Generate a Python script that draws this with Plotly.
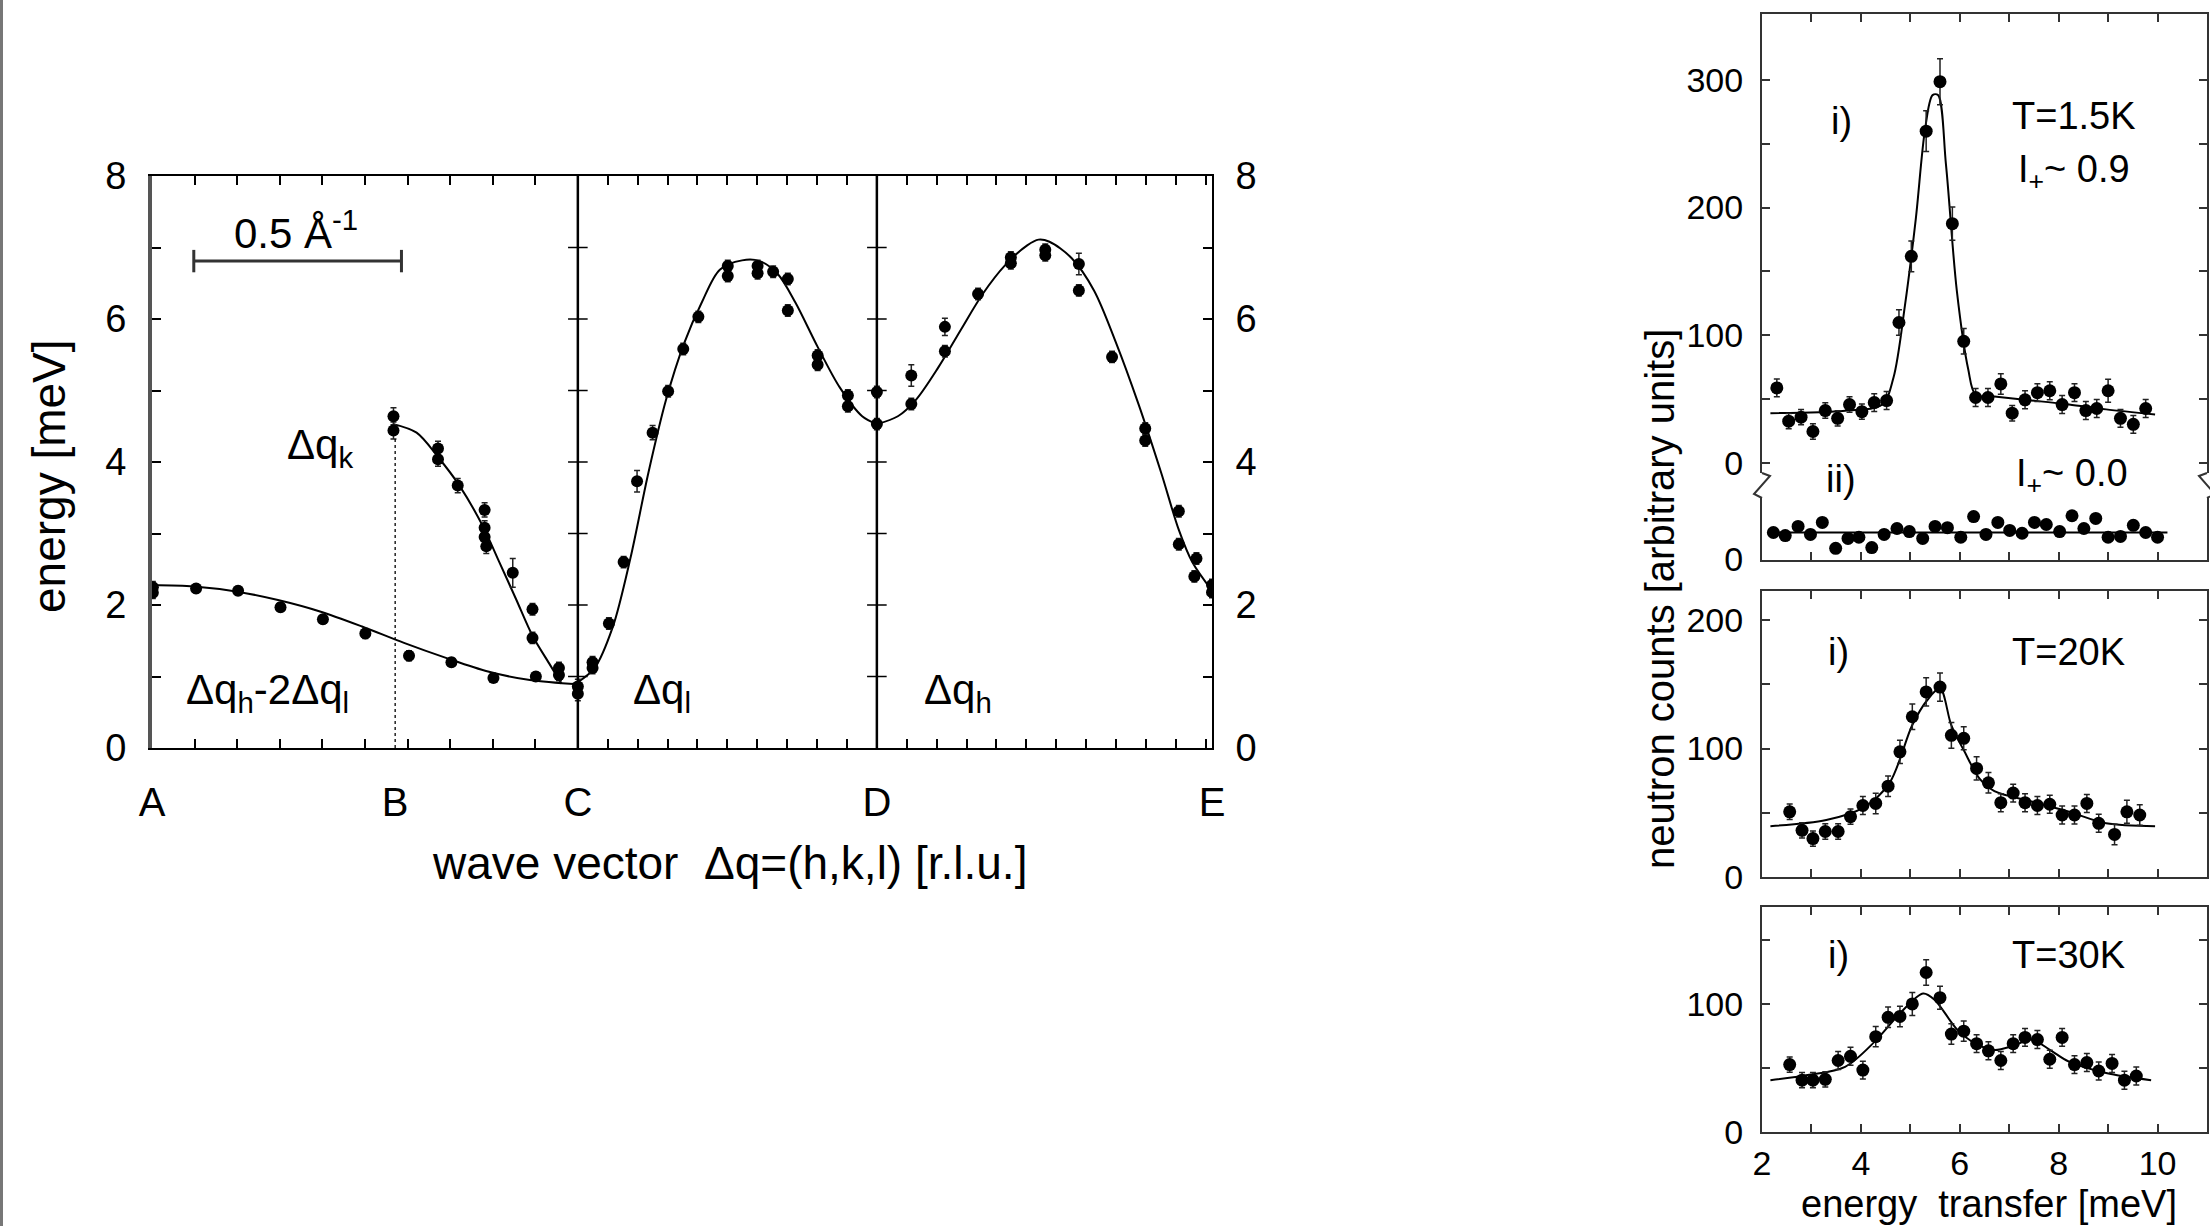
import plotly.graph_objects as go

W, H = 2210, 1226
FONT = "Liberation Sans, Arial, Helvetica, sans-serif"

# ---------------- left panel: dispersion ----------------
sym_labels = ["A", "B", "C", "D", "E"]
sym_pos = [0.0, 0.579, 1.014, 1.726, 2.524]          # path length (1/Å)
energy_ticks = [0, 2, 4, 6, 8]
scale_bar_x = [0.0995, 0.594]                         # 0.5 1/Å
scale_bar_y = [6.81, 6.81]

# branch Δq_h-2Δq_l  (A -> C)
hl_x = [0.002, 0.002, 0.105, 0.205, 0.306, 0.407, 0.508, 0.612, 0.713, 0.813, 0.914]
hl_y = [2.25, 2.17, 2.23, 2.20, 1.97, 1.80, 1.60, 1.29, 1.20, 0.98, 1.00]
hl_e = [0.08, 0.08, 0.06, 0.06, 0.06, 0.06, 0.07, 0.07, 0.06, 0.06, 0.06]
hl_fit_x = [0.0, 0.1, 0.2, 0.3, 0.4, 0.5, 0.6, 0.7, 0.8, 0.9, 1.014]
hl_fit_y = [2.28, 2.26, 2.19, 2.07, 1.91, 1.70, 1.47, 1.26, 1.07, 0.95, 0.89]

# branch Δq_k  (B -> C)
k_x = [0.575, 0.575, 0.681, 0.681, 0.728, 0.792, 0.792, 0.792, 0.796, 0.859, 0.906, 0.906, 0.969, 0.969]
k_y = [4.64, 4.44, 4.19, 4.04, 3.67, 3.33, 3.08, 2.95, 2.82, 2.45, 1.94, 1.54, 1.12, 1.02]
k_e = [0.12, 0.12, 0.10, 0.10, 0.10, 0.10, 0.10, 0.10, 0.10, 0.20, 0.08, 0.08, 0.08, 0.08]
k_fit_x = [0.575, 0.630, 0.681, 0.732, 0.788, 0.827, 0.867, 0.906, 0.946, 0.975]
k_fit_y = [4.53, 4.41, 4.07, 3.67, 3.10, 2.60, 2.08, 1.57, 1.18, 0.90]

# branch Δq_l  (C -> D)
l_x = [1.014, 1.014, 1.049, 1.049, 1.088, 1.123, 1.155, 1.192, 1.229, 1.265, 1.301,
       1.371, 1.371, 1.442, 1.442, 1.479, 1.514, 1.514, 1.585, 1.585, 1.657, 1.657]
l_y = [0.86, 0.76, 1.12, 1.20, 1.74, 2.60, 3.73, 4.41, 4.99, 5.58, 6.03,
       6.60, 6.74, 6.74, 6.64, 6.66, 6.56, 6.12, 5.49, 5.36, 4.93, 4.78]
l_e = [0.1, 0.1, 0.08, 0.08, 0.08, 0.08, 0.15, 0.1, 0.08, 0.08, 0.08,
       0.08, 0.08, 0.08, 0.08, 0.08, 0.08, 0.08, 0.08, 0.08, 0.08, 0.08]
l_fit_x = [1.014, 1.054, 1.097, 1.139, 1.182, 1.224, 1.267, 1.309, 1.352, 1.405,
           1.447, 1.490, 1.532, 1.585, 1.638, 1.691, 1.726]
l_fit_y = [0.92, 1.12, 1.69, 2.65, 3.85, 4.87, 5.66, 6.23, 6.69, 6.82,
           6.81, 6.63, 6.23, 5.61, 5.04, 4.64, 4.53]

# branch Δq_h  (D -> E)
h_x = [1.726, 1.726, 1.808, 1.808, 1.888, 1.888, 1.967, 2.045, 2.045, 2.127, 2.127,
       2.207, 2.207, 2.286, 2.365, 2.365, 2.445, 2.445, 2.482, 2.487, 2.524, 2.524]
h_y = [4.98, 4.53, 4.81, 5.21, 5.55, 5.89, 6.35, 6.86, 6.78, 6.97, 6.89,
       6.77, 6.40, 5.47, 4.47, 4.30, 3.31, 2.85, 2.40, 2.65, 2.28, 2.18]
h_e = [0.08, 0.08, 0.08, 0.15, 0.08, 0.12, 0.08, 0.08, 0.08, 0.08, 0.08,
       0.15, 0.08, 0.08, 0.08, 0.08, 0.08, 0.08, 0.08, 0.08, 0.08, 0.08]
h_fit_x = [1.726, 1.776, 1.819, 1.872, 1.925, 1.978, 2.031, 2.084, 2.111, 2.137,
           2.190, 2.243, 2.296, 2.349, 2.403, 2.445, 2.477, 2.524]
h_fit_y = [4.53, 4.64, 4.87, 5.32, 5.84, 6.35, 6.75, 7.03, 7.11, 7.08,
           6.85, 6.40, 5.66, 4.81, 3.85, 3.05, 2.60, 2.20]

# ---------------- right panels: energy scans ----------------
# T = 1.5 K, i)
i15_x = [2.30, 2.54, 2.79, 3.03, 3.28, 3.53, 3.77, 4.02, 4.27, 4.52, 4.77, 5.02, 5.32, 5.60,
         5.85, 6.08, 6.32, 6.57, 6.83, 7.06, 7.32, 7.57, 7.82, 8.07, 8.32, 8.55, 8.77, 9.00,
         9.25, 9.51, 9.76]
i15_y = [58.8, 32.8, 35.9, 24.7, 41.1, 35.0, 45.8, 40.2, 47.3, 48.9, 110, 161.8, 259.8, 298.5,
         187.4, 95.3, 51.3, 51.3, 61.9, 39.0, 49.5, 55.1, 56.6, 45.8, 55.1, 41.1, 42.7, 56.6,
         35.0, 30.3, 42.7]
i15_e = [7, 6, 6, 6, 6, 6, 6, 6, 7, 7, 10, 12, 16, 18,
         13, 10, 7, 7, 8, 6, 7, 7, 7, 7, 7, 7, 7, 9,
         7, 7, 7]
i15_fit_x = [2.17, 3.68, 4.43, 4.66, 4.89, 5.11, 5.30, 5.45, 5.56, 5.72, 5.94, 6.17, 6.32,
             6.70, 7.45, 8.21, 8.96, 9.95]
i15_fit_y = [39, 41, 45.8, 67, 123, 191, 262, 288, 288, 234, 135, 73.6, 53.5,
             52, 49, 45.8, 42, 38]

# T = 1.5 K, ii)
ii15_x = [2.23, 2.47, 2.73, 2.98, 3.22, 3.49, 3.74, 3.96, 4.22, 4.47, 4.73, 4.98, 5.25, 5.50,
          5.75, 6.02, 6.28, 6.53, 6.77, 7.01, 7.26, 7.51, 7.75, 8.02, 8.27, 8.51, 8.75, 9.00,
          9.25, 9.51, 9.76, 10.00]
ii15_y = [21, 18.6, 25.7, 19.5, 28.8, 8.7, 16.4, 17.3, 9.3, 19.5, 24.1, 21.7, 16.4, 25.7,
          24.7, 17.3, 33.4, 19.5, 28.8, 22.6, 20.4, 28.8, 27.2, 21.7, 34.0, 24.1, 31.9, 17.3,
          17.9, 26.6, 21.0, 17.3]
ii15_fit_x = [2.2, 10.2]
ii15_fit_y = [21, 21]

# T = 20 K
t20_x = [2.56, 2.81, 3.03, 3.28, 3.54, 3.79, 4.04, 4.30, 4.55, 4.79, 5.04, 5.32, 5.60, 5.83,
         6.08, 6.34, 6.58, 6.83, 7.08, 7.32, 7.57, 7.82, 8.07, 8.32, 8.57, 8.81, 9.13, 9.38, 9.64]
t20_y = [50.6, 36.1, 29.7, 35.2, 35.2, 46.8, 55.5, 57.1, 70.6, 97.4, 124.8, 144.2, 148, 110.3,
         108, 84.5, 73.2, 57.7, 65.2, 57.7, 55.5, 56.5, 48.1, 48.1, 57.1, 41.6, 32.9, 50.6, 48.1]
t20_e = [6, 6, 6, 6, 6, 6, 7, 8, 8, 9, 10, 11, 11, 10,
         9, 9, 8, 7, 7, 7, 7, 7, 7, 7, 7, 7, 8, 9, 8]
t20_fit_x = [2.17, 3.30, 4.05, 4.58, 5.04, 5.34, 5.60, 5.83, 6.09, 6.40, 6.70, 7.45, 8.21, 8.96, 9.95]
t20_fit_y = [39.4, 44.2, 53.9, 73.2, 118.4, 137.7, 147, 118, 98, 76.5, 66.8, 58.7, 50.6, 41.6, 39.4]

# T = 30 K
t30_x = [2.56, 2.81, 3.03, 3.28, 3.54, 3.79, 4.04, 4.30, 4.55, 4.79, 5.04, 5.32, 5.60, 5.83,
         6.08, 6.34, 6.58, 6.83, 7.08, 7.32, 7.57, 7.82, 8.07, 8.32, 8.57, 8.81, 9.08, 9.33, 9.57]
t30_y = [52.5, 40.3, 40.3, 41.0, 55.7, 59.0, 48.2, 74.4, 89.5, 90.2, 100, 124.6, 104.9, 76.4,
         78.7, 68.9, 63.3, 55.7, 68.9, 73.8, 72.1, 56.7, 73.8, 52.5, 54.1, 47.5, 53.4, 40.3, 43.6]
t30_e = [6, 6, 6, 6, 7, 7, 7, 8, 8, 8, 9, 10, 9, 8,
         8, 7, 7, 7, 7, 7, 7, 7, 7, 7, 7, 7, 7, 7, 7]
t30_fit_x = [2.17, 2.92, 3.68, 4.28, 4.81, 5.26, 5.49, 5.94, 6.32, 6.70, 7.08, 7.45, 7.83,
             8.21, 8.96, 9.87]
t30_fit_y = [40.3, 44.3, 50.8, 70.5, 93.4, 108.2, 103.3, 80.3, 68.9, 63.9, 67.2, 72.1, 63.9,
             54.8, 45.9, 40.3]


# ---------------- helpers ----------------
def px(x):
    return x / W


def py(y):
    return 1 - y / H


BLACK = "black"
fig = go.Figure()


def pts(x, y, e, xa, ya, size=12):
    tr = dict(x=x, y=y, mode="markers", xaxis=xa, yaxis=ya, showlegend=False,
              marker=dict(color=BLACK, size=size), hoverinfo="skip")
    if e is not None:
        tr["error_y"] = dict(type="data", array=e, color="#222", thickness=1.5, width=3)
    fig.add_trace(go.Scatter(**tr))


def fit(x, y, xa, ya, width=2.0):
    fig.add_trace(go.Scatter(x=x, y=y, mode="lines", xaxis=xa, yaxis=ya, showlegend=False,
                             line=dict(color=BLACK, width=width, shape="spline", smoothing=0.9),
                             hoverinfo="skip"))


# left panel fits and data
fit(hl_fit_x, hl_fit_y, "x", "y")
fit(k_fit_x, k_fit_y, "x", "y")
fit(l_fit_x, l_fit_y, "x", "y")
fit(h_fit_x, h_fit_y, "x", "y")
pts(hl_x, hl_y, hl_e, "x", "y")
pts(k_x, k_y, k_e, "x", "y")
pts(l_x, l_y, l_e, "x", "y")
pts(h_x, h_y, h_e, "x", "y")

# vertical separators at C and D, dotted at B
for xv in (sym_pos[2], sym_pos[3]):
    fig.add_trace(go.Scatter(x=[xv, xv], y=[0, 8], mode="lines", xaxis="x", yaxis="y",
                             line=dict(color=BLACK, width=2.5), showlegend=False, hoverinfo="skip"))
    fig.add_trace(go.Scatter(x=[xv] * 7, y=[1, 2, 3, 4, 5, 6, 7], mode="markers", xaxis="x", yaxis="y",
                             marker=dict(symbol="line-ew", size=14, line=dict(color=BLACK, width=1.5)),
                             showlegend=False, hoverinfo="skip"))
fig.add_trace(go.Scatter(x=[sym_pos[1], sym_pos[1]], y=[0, 4.45], mode="lines", xaxis="x", yaxis="y",
                         line=dict(color=BLACK, width=1.3, dash="dot"), showlegend=False, hoverinfo="skip"))

# scale bar
fig.add_trace(go.Scatter(x=scale_bar_x, y=scale_bar_y, mode="lines+markers", xaxis="x", yaxis="y",
                         line=dict(color="#333", width=3),
                         marker=dict(symbol="line-ns", size=16, line=dict(color="#333", width=3)),
                         showlegend=False, hoverinfo="skip"))

# dummy trace for right-hand energy axis
fig.add_trace(go.Scatter(x=[sym_pos[0]], y=[0], xaxis="x", yaxis="y2", mode="markers",
                         marker=dict(opacity=0), showlegend=False, hoverinfo="skip"))

# right panels
fit(i15_fit_x, i15_fit_y, "x3", "y3")
pts(i15_x, i15_y, i15_e, "x3", "y3", 13)
fit(ii15_fit_x, ii15_fit_y, "x4", "y4")
pts(ii15_x, ii15_y, None, "x4", "y4", 13)
fit(t20_fit_x, t20_fit_y, "x5", "y5")
pts(t20_x, t20_y, t20_e, "x5", "y5", 13)
fit(t30_fit_x, t30_fit_y, "x6", "y6")
pts(t30_x, t30_y, t30_e, "x6", "y6", 13)

# ---------------- layout ----------------
LTICKF = dict(family=FONT, size=38, color=BLACK)
RTICKF = dict(family=FONT, size=34, color=BLACK)

# minor tick positions along the path
minor_x = [sym_pos[0] + k * (sym_pos[2] - sym_pos[0]) / 10 for k in range(1, 10)]
step = (sym_pos[3] - sym_pos[2]) / 10
m = 1
while sym_pos[2] + m * step < sym_pos[4] - 0.01:
    minor_x.append(sym_pos[2] + m * step)
    m += 1

LX = [px(152), px(1212)]
LY = [py(748), py(176)]
RX = [px(1762), px(2207)]

layout = dict(
    width=W, height=H, margin=dict(l=0, r=0, t=0, b=0, autoexpand=False),
    paper_bgcolor="white", plot_bgcolor="white",
    font=dict(family=FONT, color=BLACK),
    xaxis=dict(domain=LX, range=[sym_pos[0], sym_pos[4]], anchor="y", automargin=False,
               tickmode="array", tickvals=sym_pos, ticktext=sym_labels,
               ticks="inside", ticklen=0, tickfont=dict(family=FONT, size=40, color=BLACK),
               ticklabelstandoff=18,
               minor=dict(tickmode="array", tickvals=minor_x, ticks="inside", ticklen=9,
                          tickwidth=2, tickcolor=BLACK),
               showline=True, linecolor=BLACK, linewidth=2, mirror="ticks",
               showgrid=False, zeroline=False, fixedrange=True),
    yaxis=dict(domain=LY, range=[0, 8], anchor="x", automargin=False,
               tickmode="array", tickvals=energy_ticks, ticks="inside", ticklen=9, tickwidth=2,
               tickcolor=BLACK, tickfont=LTICKF, ticklabelstandoff=14,
               minor=dict(tickmode="array", tickvals=[1, 3, 5, 7], ticks="inside", ticklen=9,
                          tickwidth=2, tickcolor=BLACK),
               showline=True, linecolor="#555", linewidth=4, mirror=False,
               showgrid=False, zeroline=False, fixedrange=True),
    yaxis2=dict(overlaying="y", side="right", anchor="x", range=[0, 8], automargin=False,
                tickmode="array", tickvals=energy_ticks, ticks="inside", ticklen=9, tickwidth=2,
                tickcolor=BLACK, tickfont=LTICKF, ticklabelstandoff=14,
                minor=dict(tickmode="array", tickvals=[1, 3, 5, 7], ticks="inside", ticklen=9,
                           tickwidth=2, tickcolor=BLACK),
                showline=True, linecolor=BLACK, linewidth=2,
                showgrid=False, zeroline=False, fixedrange=True),
)

common_rx = dict(domain=RX, range=[2, 11], showgrid=False, zeroline=False, fixedrange=True,
                 automargin=False,
                 showline=True, linecolor="#333", linewidth=2, ticks="inside", ticklen=8,
                 tickwidth=2, tickcolor="#333")
common_ry = dict(showgrid=False, zeroline=False, fixedrange=True, showline=True, mirror="ticks",
                 automargin=False,
                 linecolor="#333", linewidth=2, ticks="inside", ticklen=8, tickwidth=2,
                 tickcolor="#333", tickfont=RTICKF, ticklabelstandoff=10, tickmode="array")

layout["xaxis3"] = dict(common_rx, anchor="y3", side="top", mirror=False, dtick=1, tick0=2,
                        showticklabels=False)
layout["yaxis3"] = dict(common_ry, anchor="x3", domain=[py(473), py(14)], range=[-7.8, 351.5],
                        tickvals=[0, 100, 200, 300],
                        minor=dict(tickmode="array", tickvals=[50, 150, 250], ticks="inside",
                                   ticklen=8, tickwidth=2, tickcolor="#333"))
layout["xaxis4"] = dict(common_rx, anchor="y4", side="bottom", mirror=False, dtick=1, tick0=2,
                        showticklabels=False)
layout["yaxis4"] = dict(common_ry, anchor="x4", domain=[py(559.5), py(498)], range=[0, 47.8],
                        tickvals=[0])
layout["xaxis5"] = dict(common_rx, anchor="y5", mirror="ticks", dtick=1, tick0=2,
                        showticklabels=False)
layout["yaxis5"] = dict(common_ry, anchor="x5", domain=[py(876.6), py(591)], range=[0, 223],
                        tickvals=[0, 100, 200],
                        minor=dict(tickmode="array", tickvals=[50, 150], ticks="inside",
                                   ticklen=8, tickwidth=2, tickcolor="#333"))
layout["xaxis6"] = dict(common_rx, anchor="y6", mirror="ticks", tickmode="array",
                        tickvals=[2, 4, 6, 8, 10], tickfont=RTICKF, ticklabelstandoff=0,
                        minor=dict(tickmode="array", tickvals=[3, 5, 7, 9], ticks="inside",
                                   ticklen=8, tickwidth=2, tickcolor="#333"))
layout["yaxis6"] = dict(common_ry, anchor="x6", domain=[py(1131.7), py(906.8)], range=[0, 176],
                        tickvals=[0, 100],
                        minor=dict(tickmode="array", tickvals=[50, 150], ticks="inside",
                                   ticklen=8, tickwidth=2, tickcolor="#333"))

fig.update_layout(**layout)

LLBL = dict(family=FONT, size=42, color=BLACK)
RLBL = dict(family=FONT, size=38, color=BLACK)
C = dict(showarrow=False, xanchor="center", yanchor="middle")
ann = [
    # left panel
    dict(C, x=0.343, y=7.25, xref="x", yref="y", text="0.5 Å<sup>-1</sup>", font=LLBL),
    dict(C, x=0.40, y=4.2, xref="x", yref="y", text="Δq<sub>k</sub>", font=LLBL),
    dict(C, x=0.276, y=0.77, xref="x", yref="y", text="Δq<sub>h</sub>-2Δq<sub>l</sub>", font=LLBL),
    dict(C, x=1.214, y=0.77, xref="x", yref="y", text="Δq<sub>l</sub>", font=LLBL),
    dict(C, x=1.919, y=0.77, xref="x", yref="y", text="Δq<sub>h</sub>", font=LLBL),
    dict(C, x=px(49), y=py(476), xref="paper", yref="paper", text="energy [meV]", textangle=-90,
         font=dict(family=FONT, size=46, color=BLACK)),
    dict(C, x=px(729), y=py(863), xref="paper", yref="paper",
         text="wave vector  Δq=(h,k,l) [r.l.u.]",
         font=dict(family=FONT, size=46, color=BLACK)),
    # right panels
    dict(C, x=3.6, y=268, xref="x3", yref="y3", text="i)", font=RLBL),
    dict(C, x=8.3, y=272, xref="x3", yref="y3", text="T=1.5K", font=RLBL),
    dict(C, x=8.3, y=228, xref="x3", yref="y3", text="I<sub>+</sub>~ 0.9", font=RLBL),
    dict(C, x=px(1841), y=py(479), xref="paper", yref="paper", text="ii)", font=RLBL),
    dict(C, x=px(2072), y=py(476), xref="paper", yref="paper", text="I<sub>+</sub>~ 0.0", font=RLBL),
    dict(C, x=3.55, y=175, xref="x5", yref="y5", text="i)", font=RLBL),
    dict(C, x=8.2, y=175, xref="x5", yref="y5", text="T=20K", font=RLBL),
    dict(C, x=3.55, y=138, xref="x6", yref="y6", text="i)", font=RLBL),
    dict(C, x=8.2, y=138, xref="x6", yref="y6", text="T=30K", font=RLBL),
    dict(C, x=px(1660), y=py(599), xref="paper", yref="paper",
         text="neutron counts [arbitrary units]", textangle=-90,
         font=dict(family=FONT, size=40, color=BLACK)),
    dict(C, x=px(1989), y=py(1204), xref="paper", yref="paper", text="energy  transfer [meV]",
         font=dict(family=FONT, size=38, color=BLACK)),
]
fig.update_layout(annotations=ann)


def zig(x0, sgn):
    pts_ = [(x0, 473), (x0 + sgn * 8, 476), (x0 - sgn * 8, 494), (x0, 498)]
    d = "M " + " L ".join(f"{px(a):.5f},{py(b):.5f}" for a, b in pts_)
    return dict(type="path", path=d, xref="paper", yref="paper",
                line=dict(color="#333", width=2))


shapes = [
    zig(1762, 1), zig(2207, -1),
    dict(type="line", x0=px(1.5), x1=px(1.5), y0=0, y1=1, xref="paper", yref="paper",
         line=dict(color="#777", width=3)),
]
fig.update_layout(shapes=shapes)

fig.write_html("out.html", config={"displayModeBar": False})
